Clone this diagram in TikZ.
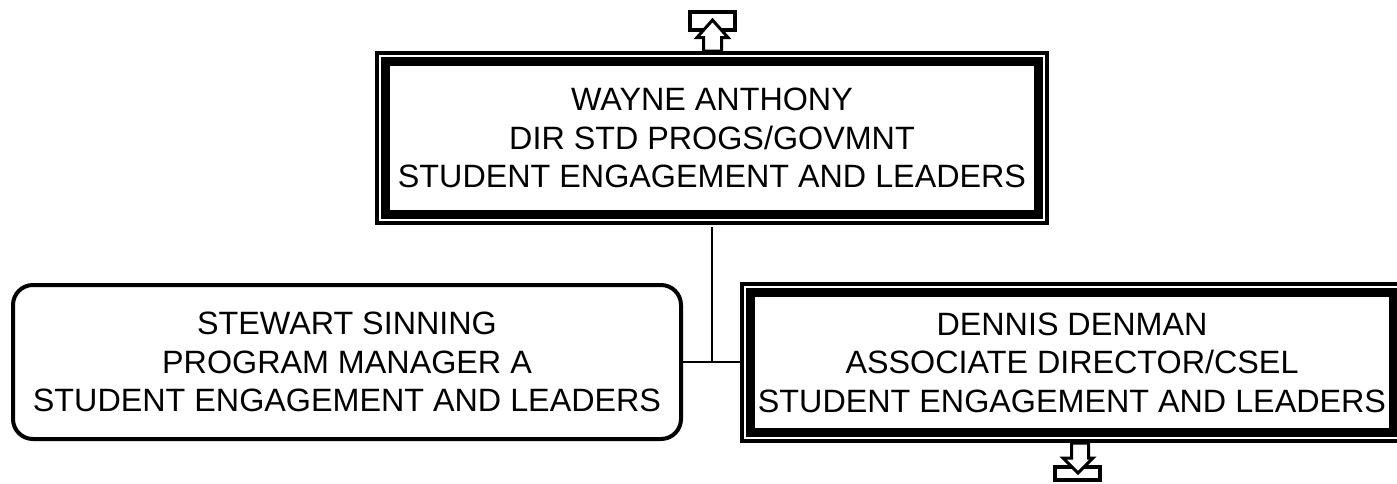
\documentclass[tikz,border=0pt]{standalone}
\usepackage{fontspec}
\setmainfont{Liberation Sans}
\usetikzlibrary{calc}
\tikzset{
  person/.style={rectangle, draw, line width=4pt, align=center, inner sep=0pt,
    font=\fontsize{32.3}{38.6}\selectfont, fill=white},
  roundperson/.style={person, rounded corners=20pt},
  band/.style={line width=9pt},
  link/.style={line width=2pt},
  markbox/.style={rectangle, draw, line width=4pt, inner sep=0pt, fill=white},
  markarrow/.style={draw, fill=white, line width=3pt, line join=miter}
}
\begin{document}
\begin{tikzpicture}[x=1pt,y=-1pt]
\useasboundingbox (0,0) rectangle (1397,483);
% connectors
\coordinate (junction) at (712,362);
% nodes
\node[person, minimum width=670pt, minimum height=170pt] (wayne) at (712,138)
  {WAYNE ANTHONY\\DIR STD PROGS/GOVMNT\\STUDENT ENGAGEMENT AND LEADERS};
\draw[band] ($(wayne.north west)+(10.5,10.5)$) rectangle ($(wayne.south east)+(-10.5,-10.5)$);
\node[roundperson, minimum width=668pt, minimum height=154pt] (stewart) at (347,362)
  {STEWART SINNING\\PROGRAM MANAGER A\\STUDENT ENGAGEMENT AND LEADERS};
\node[person, minimum width=660pt, minimum height=157pt] (dennis) at (1072,362.5)
  {DENNIS DENMAN\\ASSOCIATE DIRECTOR/CSEL\\STUDENT ENGAGEMENT AND LEADERS};
\draw[band] ($(dennis.north west)+(10.5,10.5)$) rectangle ($(dennis.south east)+(-10.5,-10.5)$);
% connector lines
\draw[link] ($(wayne.south)+(0,2)$) -- (junction);
\draw[link] (stewart.east) -- (stewart.east -| dennis.west);
% up marker
\node[markbox, minimum width=45pt, minimum height=18pt] (upbox) at (712.5,21) {};
\draw[markarrow] (703.5,51) -- (703.5,37.5) -- (697,37.5) -- (712.5,20) -- (728,37.5) -- (721.5,37.5) -- (721.5,51) -- cycle;
% down marker
\node[markbox, minimum width=45pt, minimum height=13pt] (downbox) at (1077.5,473.5) {};
\draw[markarrow] (1071.5,443) -- (1071.5,458) -- (1063,458) -- (1078,473) -- (1093,458) -- (1088.5,458) -- (1088.5,443) -- cycle;
\end{tikzpicture}
\end{document}
